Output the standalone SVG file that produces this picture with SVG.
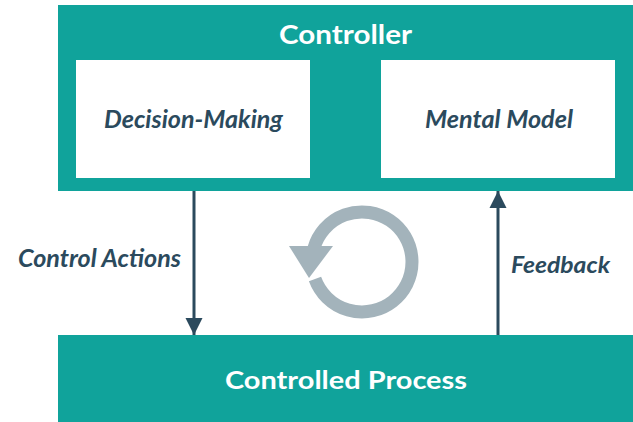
<svg xmlns="http://www.w3.org/2000/svg" width="633" height="422" viewBox="0 0 633 422">
<defs>
<style>
.teal{fill:#10a39b;}
.inner{fill:#ffffff;}
.title{font-family:Lato,"Liberation Sans",sans-serif;font-weight:bold;fill:#ffffff;}
.lbl{font-family:Lato,"Liberation Sans",sans-serif;font-weight:bold;font-style:italic;fill:#2b4a5d;}
.conn{stroke:#2b4a5d;stroke-width:3;fill:none;}
</style>
<marker id="ah" viewBox="0 0 10 10" refX="10" refY="5" markerWidth="5.7" markerHeight="5.7" markerUnits="strokeWidth" orient="auto">
<path d="M0,0 L10,5 L0,10 z" fill="#2b4a5d"/>
</marker>
</defs>
<rect width="633" height="422" fill="#ffffff"/>
<g id="controller">
<rect class="teal" x="58" y="5" width="575" height="186"/>
<text class="title" x="279" y="43.5" font-size="27.5" textLength="133" lengthAdjust="spacingAndGlyphs">Controller</text>
</g>
<g id="decision-making">
<rect class="inner" x="76" y="60" width="234" height="118"/>
<text class="lbl" x="104" y="128" font-size="24" textLength="179" lengthAdjust="spacingAndGlyphs">Decision-Making</text>
</g>
<g id="mental-model">
<rect class="inner" x="381" y="60" width="234" height="118"/>
<text class="lbl" x="425" y="128" font-size="24" textLength="148" lengthAdjust="spacingAndGlyphs">Mental Model</text>
</g>
<g id="controlled-process">
<rect class="teal" x="58" y="335" width="575" height="87"/>
<text class="title" x="225" y="388.5" font-size="25" textLength="242" lengthAdjust="spacingAndGlyphs">Controlled Process</text>
</g>
<g id="connectors">
<line class="conn" x1="194" y1="191" x2="194" y2="335" marker-end="url(#ah)"/>
<text class="lbl" x="18" y="266.5" font-size="25" textLength="163" lengthAdjust="spacingAndGlyphs">Control Actions</text>
<line class="conn" x1="498" y1="335" x2="498" y2="191" marker-end="url(#ah)"/>
<text class="lbl" x="511" y="273" font-size="23.5" textLength="99" lengthAdjust="spacingAndGlyphs">Feedback</text>
</g>
<g id="cycle">
<path d="M315,279 A50,50 0 1 0 313.9,248.2" fill="none" stroke="#a3b3bb" stroke-width="13"/>
<polygon points="289,246 333,246 309,278" fill="#a3b3bb"/>
</g>
</svg>
